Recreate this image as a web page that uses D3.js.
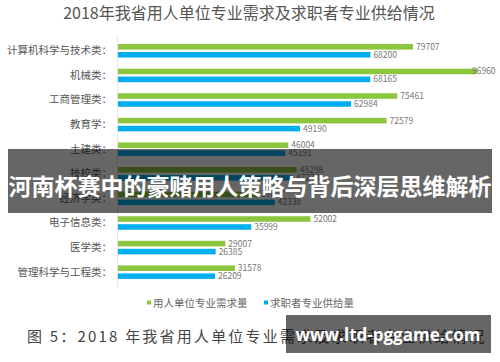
<!DOCTYPE html>
<html>
<head>
<meta charset="utf-8">
<script src="https://cdn.jsdelivr.net/npm/d3@7"></script>
<style>
  html, body { margin: 0; padding: 0; background: #fff; }
  svg { display: block; font-family: "Noto Sans CJK SC", "Noto Sans", sans-serif; }
</style>
</head>
<body>
<div id="chart"></div>
<script>
// 2018 demand vs supply by major
const categories = ['计算机科学与技术类', '机械类', '工商管理类', '教育学', '土建类',
    '技校类', '经济学类', '电子信息类', '医学类', '管理科学与工程类'];
const demand = [79707, 96960, 75461, 72579, 46004, 48298, 37807, 52002, 29007, 31578];
const supply = [68200, 68165, 62984, 49190, 45191, 47278, 42338, 35999, 26385, 26209];
const seriesNames = ['用人单位专业需求量', '求职者专业供给量'];
const seriesColors = ['#8cc63f', '#00aeef'];

const width = 500, height = 362;

const svg = d3.select('#chart').append('svg')
    .attr('width', width)
    .attr('height', height);

svg.append('text')
    .attr('x', 249)
    .attr('y', 19)
    .attr('text-anchor', 'middle')
    .attr('font-size', 16)
    .attr('fill', '#555')
    .text('2018年我省用人单位专业需求及求职者专业供给情况');

const x = d3.scaleLinear().domain([0, 97000]).range([118, 477]);
const y0 = d3.scaleBand().domain(categories).range([38.5, 284.5])
    .paddingInner(0.45).paddingOuter(0.225);
const y1 = d3.scaleBand().domain(seriesNames).range([0, y0.bandwidth()]).paddingInner(0.3);

// axis line on the left of the bars
svg.append('line')
    .attr('x1', 117.5).attr('x2', 117.5)
    .attr('y1', 36).attr('y2', 287)
    .attr('stroke', '#e6e6e6');

// category labels
const yAxis = d3.axisLeft(y0).tickSize(0).tickPadding(0).tickFormat(d => d + '：');
const ay = svg.append('g').attr('transform', 'translate(112,0)').call(yAxis);
ay.select('.domain').remove();
ay.selectAll('text')
    .attr('font-size', 10.5)
    .attr('fill', '#555')
    .attr('font-family', '"Noto Sans CJK SC", sans-serif');

const rows = categories.map((c, i) => ({ cat: c, values: [demand[i], supply[i]] }));

const groups = svg.selectAll('.row')
    .data(rows)
    .enter().append('g')
    .attr('class', 'row')
    .attr('transform', d => `translate(0,${y0(d.cat)})`);

groups.selectAll('rect')
    .data(d => d.values.map((v, k) => ({ v, k })))
    .enter().append('rect')
    .attr('x', x(0))
    .attr('y', d => y1(seriesNames[d.k]))
    .attr('width', d => x(d.v) - x(0))
    .attr('height', y1.bandwidth())
    .attr('fill', d => seriesColors[d.k]);

groups.selectAll('.val')
    .data(d => d.values.map((v, k) => ({ v, k })))
    .enter().append('text')
    .attr('class', 'val')
    .attr('x', d => Math.min(x(d.v) + 3, 472))
    .attr('y', d => y1(seriesNames[d.k]) + y1.bandwidth() / 2)
    .attr('dy', '0.35em')
    .attr('font-size', 8.5)
    .attr('fill', '#777')
    .text(d => d.v);

// legend
const legendX = [147, 264];
const legend = svg.selectAll('.legend')
    .data(seriesNames)
    .enter().append('g')
    .attr('class', 'legend')
    .attr('transform', (d, i) => `translate(${legendX[i]},303)`);
legend.append('rect')
    .attr('x', 0).attr('y', -2.5)
    .attr('width', 4).attr('height', 4)
    .attr('fill', (d, i) => seriesColors[i]);
legend.append('text')
    .attr('x', 6)
    .attr('dy', '0.35em')
    .attr('font-size', 10.5)
    .attr('fill', '#666')
    .text(d => d);

// figure caption
svg.append('text')
    .attr('x', 27)
    .attr('y', 342)
    .attr('font-size', 15)
    .attr('letter-spacing', 2.2)
    .attr('fill', '#444')
    .attr('font-family', '"Noto Sans CJK SC", serif')
    .text('图 5：2018 年我省用人单位专业需求及求职者专业供给情况');

// overlay banner
svg.append('rect')
    .attr('x', 8).attr('y', 149)
    .attr('width', 484).attr('height', 64)
    .attr('fill', 'rgba(0,0,0,0.6)');
svg.append('text')
    .attr('x', 250)
    .attr('y', 187)
    .attr('dy', '0.35em')
    .attr('text-anchor', 'middle')
    .attr('font-size', 23)
    .attr('font-weight', 'bold')
    .attr('fill', '#fff')
    .text('河南杯赛中的豪赌用人策略与背后深层思维解析');

// watermark
svg.append('rect')
    .attr('x', 286).attr('y', 315)
    .attr('width', 205).attr('height', 38)
    .attr('fill', 'rgba(0,0,0,0.6)');
svg.append('text')
    .attr('x', 388)
    .attr('y', 335)
    .attr('dy', '0.35em')
    .attr('text-anchor', 'middle')
    .attr('font-size', 17)
    .attr('font-weight', 'bold')
    .attr('font-family', '"Open Sans", "DejaVu Sans", sans-serif')
    .attr('fill', '#fff')
    .text('www.ltd-pggame.com');
</script>
</body>
</html>
